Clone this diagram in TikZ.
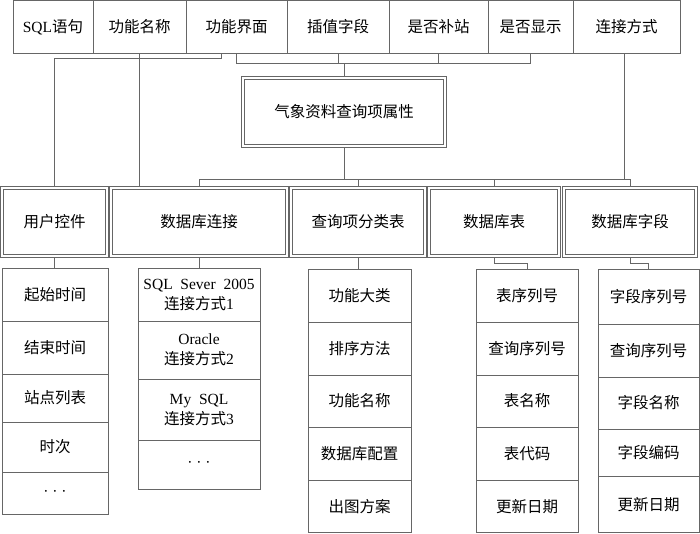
\documentclass[tikz,border=0pt]{standalone}
\usepackage{fontspec}
\setmainfont{Liberation Serif}
\newfontfamily\cjk{Noto Sans CJK SC}
\usetikzlibrary{backgrounds}
\pgfdeclarelayer{mid}
\pgfsetlayers{background,mid,main}
\definecolor{lc}{gray}{0.4}
\newcommand\fz{\fontsize{15.5}{20}\selectfont}
\begin{document}
\begin{tikzpicture}[x=1pt,y=-1pt,
  box/.style={draw=lc, line width=0.6pt, inner sep=0pt, align=center, font=\fz},
  dbox/.style={box, minimum height=64.8pt},
  topbox/.style={box, minimum height=53pt},
  conn/.style={draw=lc, line width=0.6pt}]
\useasboundingbox (0,0) rectangle (700,533);
% top row
\node[topbox, minimum width=80pt]  (t1) at (53,27)    {SQL{\cjk 语句}};
\node[topbox, minimum width=93pt]  (t2) at (139.5,27) {\cjk 功能名称};
\node[topbox, minimum width=101pt] (t3) at (236.5,27) {\cjk 功能界面};
\node[topbox, minimum width=102pt] (t4) at (338,27)   {\cjk 插值字段};
\node[topbox, minimum width=99pt]  (t5) at (438.5,27) {\cjk 是否补站};
\node[topbox, minimum width=85pt]  (t6) at (530.5,27) {\cjk 是否显示};
\node[topbox, minimum width=107pt] (t7) at (626.5,27) {\cjk 连接方式};
% centre
\node[dbox, minimum width=198.8pt] (c) at (344,112) {\cjk 气象资料查询项属性};
% second row
\node[dbox, minimum width=101.8pt] (d1) at (54.5,222) {\cjk 用户控件};
\node[dbox, minimum width=172.8pt] (d2) at (199,222)  {\cjk 数据库连接};
\node[dbox, minimum width=130.8pt] (d3) at (358,222)  {\cjk 查询项分类表};
\node[dbox, minimum width=126.8pt] (d4) at (494,222)  {\cjk 数据库表};
\node[dbox, minimum width=128.8pt] (d5) at (630,222)  {\cjk 数据库字段};
% list 1
\node[box, minimum width=106pt, minimum height=53pt] (l11) at (55,294.5) {\cjk 起始时间};
\node[box, minimum width=106pt, minimum height=53pt] (l12) at (55,347.5) {\cjk 结束时间};
\node[box, minimum width=106pt, minimum height=48pt] (l13) at (55,398)   {\cjk 站点列表};
\node[box, minimum width=106pt, minimum height=50pt] (l14) at (55,447)   {\cjk 时次};
\node[box, minimum width=106pt, minimum height=42pt] (l15) at (55,493)   {· · ·};
% list 2
\node[box, minimum width=122pt, minimum height=53pt] (l21) at (199,294.5) {SQL\ \ Sever\ \ 2005\\{\cjk 连接方式}1};
\node[box, minimum width=122pt, minimum height=58pt] (l22) at (199,350)   {Oracle\\{\cjk 连接方式}2};
\node[box, minimum width=122pt, minimum height=61pt] (l23) at (199,409.5) {My\ \ SQL\\{\cjk 连接方式}3};
\node[box, minimum width=122pt, minimum height=49pt] (l24) at (199,464.5) {· · ·};
% list 3
\node[box, minimum width=103pt, minimum height=53pt]   (l31) at (359.5,295.5)  {\cjk 功能大类};
\node[box, minimum width=103pt, minimum height=53pt]   (l32) at (359.5,348.5)  {\cjk 排序方法};
\node[box, minimum width=103pt, minimum height=52pt]   (l33) at (359.5,401)    {\cjk 功能名称};
\node[box, minimum width=103pt, minimum height=53pt]   (l34) at (359.5,453.5)  {\cjk 数据库配置};
\node[box, minimum width=103pt, minimum height=52.5pt] (l35) at (359.5,506.25) {\cjk 出图方案};
% list 4
\node[box, minimum width=102pt, minimum height=53pt]   (l41) at (527,295.5)  {\cjk 表序列号};
\node[box, minimum width=102pt, minimum height=53pt]   (l42) at (527,348.5)  {\cjk 查询序列号};
\node[box, minimum width=102pt, minimum height=52pt]   (l43) at (527,401)    {\cjk 表名称};
\node[box, minimum width=102pt, minimum height=53pt]   (l44) at (527,453.5)  {\cjk 表代码};
\node[box, minimum width=102pt, minimum height=52.5pt] (l45) at (527,506.25) {\cjk 更新日期};
% list 5
\node[box, minimum width=101pt, minimum height=55pt]   (l51) at (648.5,296.5)  {\cjk 字段序列号};
\node[box, minimum width=101pt, minimum height=53pt]   (l52) at (648.5,350.5)  {\cjk 查询序列号};
\node[box, minimum width=101pt, minimum height=52pt]   (l53) at (648.5,403)    {\cjk 字段名称};
\node[box, minimum width=101pt, minimum height=47pt]   (l54) at (648.5,452.5)  {\cjk 字段编码};
\node[box, minimum width=101pt, minimum height=56.5pt] (l55) at (648.5,504.25) {\cjk 更新日期};
% outer frames of the double-bordered boxes
\begin{pgfonlayer}{mid}
\foreach \n in {c,d1,d2,d3,d4,d5}
  \draw[conn, fill=white] ([shift={(-2.6pt,2.6pt)}]\n.north west) rectangle ([shift={(2.6pt,-2.6pt)}]\n.south east);
\end{pgfonlayer}
% connectors
\coordinate (bus1) at ([yshift=-9pt]t3.south);
\coordinate (bus2) at ([yshift=10.5pt]d2.north);
\begin{pgfonlayer}{background}
\draw[conn] ([xshift=-15.5pt]t3.south) -- ++(0,4) -| (d1.north);
\draw[conn] (t2.south) -- (t2.south |- d2.north);
\draw[conn] (t3.south) -- (t3.south |- bus1) -| (t6.south);
\draw[conn] (t4.south) -- (t4.south |- bus1);
\draw[conn] (t5.south) -- (t5.south |- bus1);
\draw[conn] (c.north) -- (c.north |- bus1);
\draw[conn] ([xshift=-2.5pt]t7.south) -- ([xshift=-2.5pt]t7.south |- bus2);
\draw[conn] (c.south) -- (c.south |- bus2);
\draw[conn] (d2.north) -- (d2.north |- bus2) -| (d5.north);
\draw[conn] (d3.north) -- (d3.north |- bus2);
\draw[conn] (d4.north) -- (d4.north |- bus2);
\draw[conn] (d1.south) -- (d1.south |- l11.north);
\draw[conn] (d2.south) -- (d2.south |- l21.north);
\draw[conn] (d3.south) -- (d3.south |- l31.north);
\draw[conn] (d4.south) -- ++(0,9) -| (l41.north);
\draw[conn] (d5.south) -- ++(0,9) -| (l51.north);
\end{pgfonlayer}
\end{tikzpicture}
\end{document}
